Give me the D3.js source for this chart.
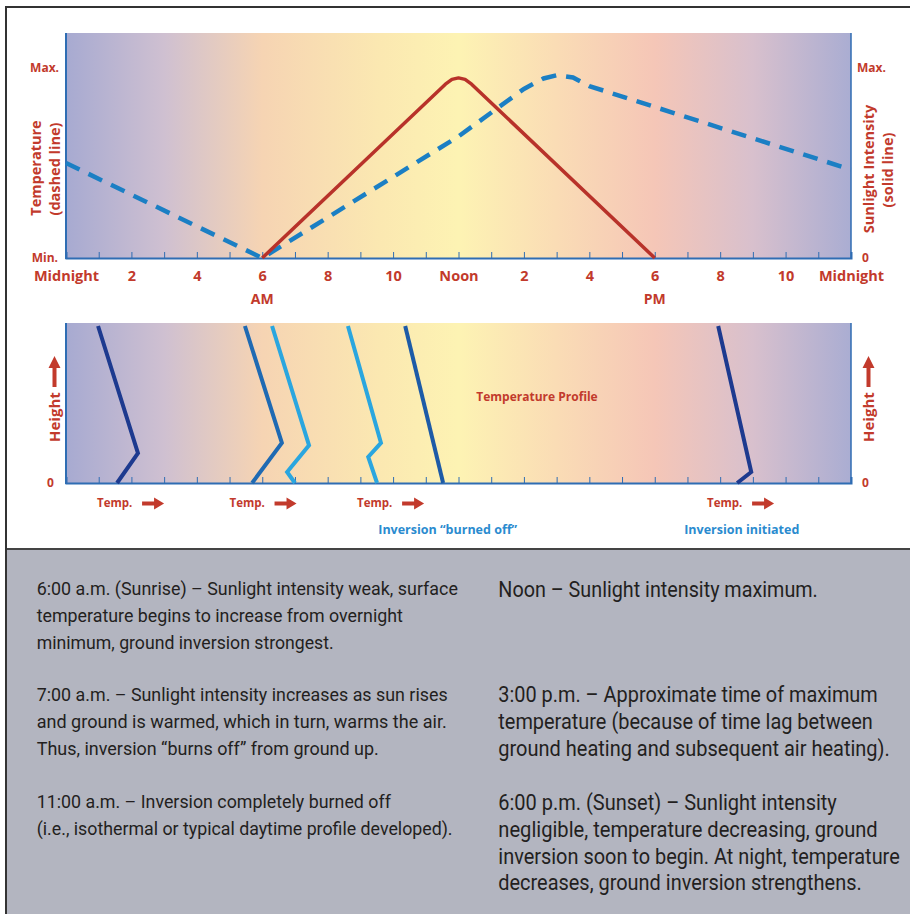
<!DOCTYPE html>
<html>
<head>
<meta charset="utf-8">
<script src="https://cdn.jsdelivr.net/npm/d3@7"></script>
<style>
  html, body { margin: 0; padding: 0; background: #fff; }
  svg { display: block; }
</style>
</head>
<body>
<svg id="chart" width="910" height="914"></svg>
<script>
// ---------------- DATA ----------------
const tickHours = [0,1,2,3,4,5,6,7,8,9,10,11,12,13,14,15,16,17,18,19,20,21,22,23,24];
const labelHours = [0,2,4,6,8,10,12,14,16,18,20,22,24];
const tickLabels = ["Midnight","2","4","6","8","10","Noon","2","4","6","8","10","Midnight"];
const ampmLabels = [{h:6, t:"AM"}, {h:18, t:"PM"}];

// Sunlight intensity (solid line), relative 0..1 (1 = Max.)
const sunlightHours  = [6, 11.6, 11.8, 12.0, 12.2, 12.4, 18];
const sunlightValues = [0, 0.915, 0.94, 0.948, 0.94, 0.915, 0];

// Temperature (dashed line), relative 0..1 (0 = Min., 1 = Max.)
const tempHours  = [0, 6, 12, 14, 14.6, 15, 15.5, 16, 24];
const tempValues = [0.5, 0, 0.64, 0.89, 0.945, 0.962, 0.95, 0.905, 0.465];

// Temperature profiles (x = hour position, y = relative height)
const profiles = [
  {color:"#1d3a8f", pts:[[0.98,1],[2.2,0.19],[1.56,0]]},
  {color:"#1f6ab3", pts:[[5.47,1],[6.6,0.255],[5.69,0]]},
  {color:"#2aa6df", pts:[[6.3,1],[7.43,0.24],[6.76,0.07],[7.0,0]]},
  {color:"#2aa6df", pts:[[8.62,1],[9.63,0.255],[9.24,0.166],[9.51,0]]},
  {color:"#1d5ba7", pts:[[10.37,1],[11.53,0]]},
  {color:"#1d3a8f", pts:[[19.94,1],[20.95,0.07],[20.52,0]]}
];
const tempLabelHours = [0.95, 5.0, 8.9, 19.6];
const inversionLabels = [{h:11.67, t:"Inversion \u201cburned off\u201d"}, {h:20.66, t:"Inversion initiated"}];

const leftParas = [
  ["6:00 a.m. (Sunrise) \u2013 Sunlight intensity weak, surface",
   "temperature begins to increase from overnight",
   "minimum, ground inversion strongest."],
  ["7:00 a.m. \u2013 Sunlight intensity increases as sun rises",
   "and ground is warmed, which in turn, warms the air.",
   "Thus, inversion \u201cburns off\u201d from ground up."],
  ["11:00 a.m. \u2013 Inversion completely burned off",
   "(i.e., isothermal or typical daytime profile developed)."]
];
const rightParas = [
  ["Noon \u2013 Sunlight intensity maximum."],
  ["3:00 p.m. \u2013 Approximate time of maximum",
   "temperature (because of time lag between",
   "ground heating and subsequent air heating)."],
  ["6:00 p.m. (Sunset) \u2013 Sunlight intensity",
   "negligible, temperature decreasing, ground",
   "inversion soon to begin. At night, temperature",
   "decreases, ground inversion strengthens."]
];

// ---------------- LAYOUT ----------------
const leftParaBaselines = [595, 701, 808];
const rightParaBaselines = [597, 702, 810];
const leftLineEnds  = [[458, 403, 334], [448, 447, 379], [391, 453]];
const rightLineEnds = [[818], [878, 873, 890], [837, 878, 900, 862]];

// ---------------- DRAWING ----------------
const svg = d3.select("#chart");
const RED = "#c23a2c";
const AXIS = "#2f6db3";
const labelFont = "'Open Sans', 'DejaVu Sans', sans-serif";
const bodyFont = "'Roboto', 'Liberation Sans', sans-serif";

svg.append("rect").attr("width",910).attr("height",914).attr("fill","#fff");

const defs = svg.append("defs");
const grad = defs.append("linearGradient").attr("id","sky").attr("gradientUnits","userSpaceOnUse")
  .attr("x1",66).attr("x2",851).attr("y1",0).attr("y2",0);
[[0,"#a7aad1"],[0.125,"#cfc0d1"],[0.25,"#f6d4b3"],[0.4,"#fbe8b1"],[0.5,"#fdf3b3"],[0.625,"#fadcb5"],[0.75,"#f5c6b7"],[0.875,"#d8c0cd"],[1,"#aaadd2"]]
  .forEach(([o,c]) => grad.append("stop").attr("offset", o).attr("stop-color", c));

const x = d3.scaleLinear().domain([0,24]).range([66,851]);
const yTop = d3.scaleLinear().domain([0,1]).range([258,68]);
const yBot = d3.scaleLinear().domain([0,1]).range([483,326]);

// ---------- top chart ----------
const gTop = svg.append("g");
gTop.append("rect").attr("x",x(0)).attr("y",33).attr("width",x(24)-x(0)).attr("height",258-33).attr("fill","url(#sky)");

const tickAxisTop = gTop.append("g").attr("transform","translate(0,258)")
  .call(d3.axisBottom(x).tickValues(tickHours.slice(1,-1)).tickSize(-6).tickFormat(""));
tickAxisTop.select(".domain").attr("stroke",AXIS).attr("stroke-width",2);
tickAxisTop.selectAll(".tick line").attr("stroke",AXIS).attr("stroke-width",1);

gTop.append("line").attr("x1",x(0)).attr("x2",x(0)).attr("y1",33).attr("y2",259).attr("stroke",AXIS).attr("stroke-width",2);
gTop.append("line").attr("x1",x(24)).attr("x2",x(24)).attr("y1",33).attr("y2",259).attr("stroke",AXIS).attr("stroke-width",1.5);

const labAxis = gTop.append("g").attr("transform","translate(0,258)")
  .call(d3.axisBottom(x).tickValues(labelHours).tickSize(0).tickPadding(13).tickFormat((d,i) => tickLabels[i]));
labAxis.select(".domain").remove();
labAxis.selectAll("text").attr("fill",RED).attr("font-family",labelFont).attr("font-weight",700).attr("font-size",14.5);

gTop.selectAll("text.ampm").data(ampmLabels).join("text").attr("class","ampm")
  .attr("x", d => x(d.h)).attr("y", 304).attr("text-anchor","middle")
  .attr("fill",RED).attr("font-family",labelFont).attr("font-weight",700).attr("font-size",14).text(d => d.t);

function lab(g, tx, ty, t, anchor, size) {
  return g.append("text").attr("x",tx).attr("y",ty).attr("text-anchor",anchor||"start")
    .attr("fill",RED).attr("font-family",labelFont).attr("font-weight",700).attr("font-size",size||11).text(t);
}
lab(gTop, 59, 72, "Max.", "end", 12);
lab(gTop, 58, 262, "Min.", "end", 12);
lab(gTop, 857, 72, "Max.", "start", 12);
lab(gTop, 862, 262, "0", "start", 12);

function vlab(g, tx, ty, t, size) {
  g.append("text").attr("transform",`translate(${tx},${ty}) rotate(-90)`).attr("text-anchor","middle")
    .attr("fill",RED).attr("font-family",labelFont).attr("font-weight",700).attr("font-size",size||13).text(t);
}
vlab(gTop, 41, 168, "Temperature", 14.5);
vlab(gTop, 60, 169, "(dashed line)", 14.5);
vlab(gTop, 874, 169, "Sunlight Intensity", 14.5);
vlab(gTop, 893, 170, "(solid line)", 14.5);

const lineTop = d3.line().x(d => x(d[0])).y(d => yTop(d[1]));
const sunData = sunlightHours.map((h,i) => [h, sunlightValues[i]]);
const tmpData = tempHours.map((h,i) => [h, tempValues[i]]);

gTop.append("path").datum(tmpData).attr("d", lineTop).attr("fill","none")
  .attr("stroke","#1b7fc4").attr("stroke-width",4.5).attr("stroke-dasharray","15,10");
gTop.append("path").datum(sunData).attr("d", lineTop).attr("fill","none")
  .attr("stroke","#b8322a").attr("stroke-width",3.5).attr("stroke-linejoin","round");

// ---------- bottom chart ----------
const gBot = svg.append("g");
gBot.append("rect").attr("x",x(0)).attr("y",323).attr("width",x(24)-x(0)).attr("height",483-323).attr("fill","url(#sky)");
const tickAxisBot = gBot.append("g").attr("transform","translate(0,483)")
  .call(d3.axisBottom(x).tickValues(tickHours.slice(1,-1)).tickSize(-6).tickFormat(""));
tickAxisBot.select(".domain").attr("stroke",AXIS).attr("stroke-width",2);
tickAxisBot.selectAll(".tick line").attr("stroke",AXIS).attr("stroke-width",1);
gBot.append("line").attr("x1",x(0)).attr("x2",x(0)).attr("y1",323).attr("y2",484).attr("stroke",AXIS).attr("stroke-width",2);
gBot.append("line").attr("x1",x(24)).attr("x2",x(24)).attr("y1",323).attr("y2",484).attr("stroke",AXIS).attr("stroke-width",1.5);

const lineBot = d3.line().x(d => x(d[0])).y(d => yBot(d[1]));
gBot.selectAll("path.profile").data(profiles).join("path").attr("class","profile")
  .attr("d", d => lineBot(d.pts)).attr("fill","none").attr("stroke", d => d.color)
  .attr("stroke-width",4).attr("stroke-linejoin","miter");

lab(gBot, 537, 401, "Temperature Profile", "middle", 12);
lab(gBot, 47, 487, "0", "start", 12);
lab(gBot, 862, 487, "0", "start", 12);

function heightLabel(tx, ty) {
  const g = gBot.append("g").attr("transform",`translate(${tx},${ty}) rotate(-90)`);
  g.append("text").attr("x",0).attr("y",0).attr("fill",RED).attr("font-family",labelFont)
    .attr("font-weight",700).attr("font-size",15).text("Height");
  g.append("path").attr("d","M55,-7.5 L74,-7.5 L74,-11.5 L86,-5.5 L74,0.5 L74,-3.5 L55,-3.5 Z").attr("fill",RED);
}
heightLabel(60, 442);
heightLabel(874, 442);

tempLabelHours.forEach(h => {
  const x0 = x(h);
  gBot.append("text").attr("x",x0).attr("y",507).attr("fill",RED).attr("font-family",labelFont)
    .attr("font-weight",700).attr("font-size",11.5).text("Temp.");
  const ax = x0 + 45;
  gBot.append("path").attr("d",`M${ax},${501.5} L${ax+12},${501.5} L${ax+12},${497.5} L${ax+22},${503.5} L${ax+12},${509.5} L${ax+12},${505.5} L${ax},${505.5} Z`).attr("fill",RED);
});

gBot.selectAll("text.inv").data(inversionLabels).join("text").attr("class","inv")
  .attr("x", d => x(d.h)).attr("y", 534).attr("text-anchor","middle")
  .attr("fill","#2a8bcf").attr("font-family",labelFont).attr("font-weight",700).attr("font-size",12.5).text(d => d.t);

// ---------- text panel ----------
svg.append("rect").attr("x",6).attr("y",549).attr("width",904).attr("height",365).attr("fill","#b3b5c0");
svg.append("line").attr("x1",6).attr("x2",910).attr("y1",549).attr("y2",549).attr("stroke","#444").attr("stroke-width",2);

function paras(list, baselines, ends, tx, size) {
  list.forEach((p, i) => {
    p.forEach((line, j) => {
      const t = svg.append("text").attr("x",0).attr("y",0)
        .attr("fill","#231f20").attr("font-family",bodyFont).attr("font-size",size).text(line);
      const natural = t.node().getComputedTextLength();
      const s = (ends[i][j] - tx) / natural;
      t.attr("transform", `translate(${tx},${baselines[i] + j*26.8}) scale(${s},1)`);
    });
  });
}
paras(leftParas, leftParaBaselines, leftLineEnds, 36.7, 18.5);
paras(rightParas, rightParaBaselines, rightLineEnds, 498.3, 21.5);

svg.append("path").attr("d","M6,914 L6,7 L910,7").attr("fill","none").attr("stroke","#333").attr("stroke-width",2);
</script>
</body>
</html>
